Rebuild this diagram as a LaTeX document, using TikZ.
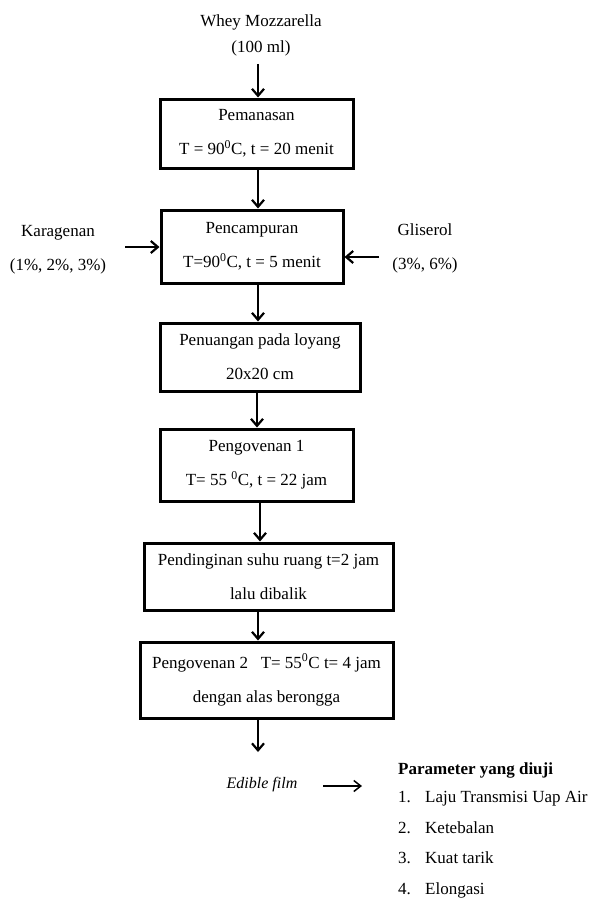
\documentclass[tikz,border=0pt]{standalone}
\usepackage{fontspec}
\setmainfont{Liberation Serif}
\usetikzlibrary{arrows.meta}
\begin{document}
\begin{tikzpicture}[x=1pt,y=-1pt,
  every node/.style={font=\fontsize{17}{34}\selectfont, inner sep=0pt},
  stepbox/.style={draw, line width=3pt, align=center},
  lbl/.style={align=center},
  arr/.style={line width=2.2pt, -{Straight Barb[length=7pt,width=12pt]}},
  thinarr/.style={line width=1.5pt, -{Straight Barb[length=7pt,width=11pt]}}]
\useasboundingbox[fill=white] (0,0) rectangle (591,900);
% input
\node[lbl, font=\fontsize{17}{26}\selectfont] (whey) at (261,35) {Whey Mozzarella\\(100 ml)};
% process boxes
\node[stepbox, minimum width=193pt, minimum height=69pt] (b1) at (256.5,133.5)
  {Pemanasan\\T = 90\textsuperscript{0}C, t = 20 menit};
\node[stepbox, minimum width=182pt, minimum height=73pt] (b2) at (252,246.5)
  {Pencampuran\\T=90\textsuperscript{0}C, t = 5 menit};
\node[stepbox, minimum width=200pt, minimum height=68pt] (b3) at (260,357)
  {Penuangan pada loyang\\20x20 cm};
\node[stepbox, minimum width=193pt, minimum height=72pt] (b4) at (256.5,465)
  {Pengovenan 1\\T= 55 \textsuperscript{0}C, t = 22 jam};
\node[stepbox, minimum width=249pt, minimum height=67pt] (b5) at (268.5,576.5)
  {Pendinginan suhu ruang t=2 jam\\lalu dibalik};
\node[stepbox, minimum width=253pt, minimum height=76pt] (b6) at (266.5,680)
  {Pengovenan 2\ \ \ T= 55\textsuperscript{0}C t= 4 jam\\dengan alas berongga};
% side inputs
\node[lbl] (kara) at (58,250) {Karagenan\\(1\%, 2\%, 3\%)};
\node[lbl] (glis) at (425,248) {Gliserol\\(3\%, 6\%)};
% output
\node[anchor=base, font=\fontsize{16}{20}\selectfont\itshape] (film) at (262,788) {Edible film};
\node[anchor=base west, font=\fontsize{17}{20}\selectfont\bfseries] (ph) at (398,774) {Parameter yang diuji};
\node[anchor=base west] (p1) at (398,802) {\makebox[27pt][l]{1.}Laju Transmisi Uap Air};
\node[anchor=base west] (p2) at (398,833) {\makebox[27pt][l]{2.}Ketebalan};
\node[anchor=base west] (p3) at (398,863) {\makebox[27pt][l]{3.}Kuat tarik};
\node[anchor=base west] (p4) at (398,894) {\makebox[27pt][l]{4.}Elongasi};
% connectors
\coordinate (ax) at (258,0);
\draw[arr, shorten <=8pt] (whey.south -| ax) -- (b1.north -| ax);
\draw[arr] (b1.south -| ax) -- (b2.north -| ax);
\draw[arr] (b2.south -| ax) -- (b3.north -| ax);
\coordinate (ax3) at (257,0);
\draw[arr] (b3.south -| ax3) -- (b4.north -| ax3);
\coordinate (ax4) at (260,0);
\draw[arr] (b4.south -| ax4) -- (b5.north -| ax4);
\draw[arr] (b5.south -| ax) -- (b6.north -| ax);
\coordinate (fend) at (258,752);
\draw[arr] (b6.south -| ax) -- (fend);
\coordinate (ks) at (125,247);
\draw[arr] (ks) -- (ks -| b2.west);
\coordinate (gs) at (379,257);
\draw[arr] (gs) -- (gs -| b2.east);
\coordinate (fa) at (323,786);
\coordinate (fb) at (362,786);
\draw[thinarr] (fa) -- (fb);
\end{tikzpicture}
\end{document}
